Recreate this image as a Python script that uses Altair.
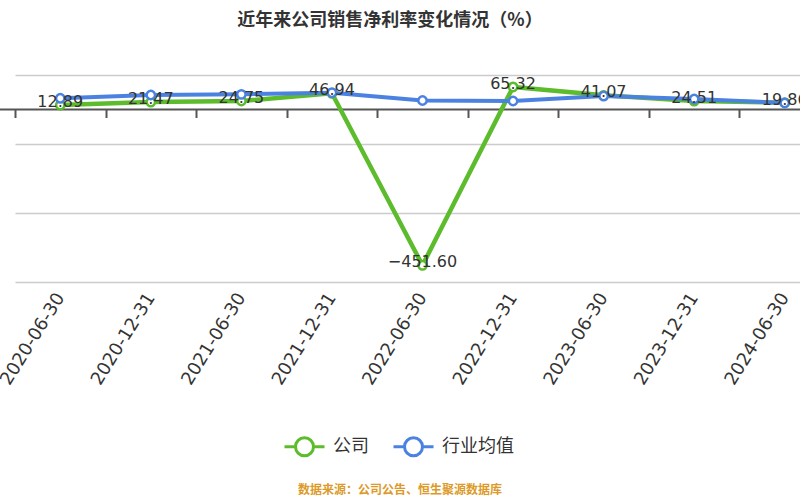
import altair as alt
import pandas as pd

# Reporting periods and margin values (%)
dates = ["2020-06-30", "2020-12-31", "2021-06-30", "2021-12-31", "2022-06-30",
         "2022-12-31", "2023-06-30", "2023-12-31", "2024-06-30"]
company = [12.89, 21.47, 24.75, 46.94, -451.60, 65.32, 41.07, 24.51, 19.86]
industry = [32.50, 42.00, 44.00, 48.70, 26.00, 24.60, 39.00, 30.40, 18.80]
series_names = ["公司", "行业均值"]
series_colors = ["#5cbc2c", "#4b82e1"]
y_ticks = [100, 0, -100, -200, -300, -400, -500]
title_text = "近年来公司销售净利率变化情况（%）"
source_note = ["数据来源：公司公告、恒生聚源数据库"]

CJK = "Noto Sans CJK SC"
TXT = "#333333"

df = pd.DataFrame({
    "date": dates * 2,
    "series": [series_names[0]] * len(dates) + [series_names[1]] * len(dates),
    "value": company + industry,
})

# legend symbol: short line through a hollow circle
legend_path = ("M-1,0L-0.45,0M0.45,0L1,0"
               "M-0.45,0A0.45,0.45,0,1,1,0.45,0A0.45,0.45,0,1,1,-0.45,0Z")

x_enc = alt.X(
    "date:N", sort=dates,
    scale=alt.Scale(type="band", range=[15, 830], paddingInner=0, paddingOuter=0),
    axis=alt.Axis(title=None, domain=False, ticks=True, tickBand="extent",
                  tickSize=8, tickWidth=2, tickColor="#555555", offset=-172.5,
                  labelAngle=-58, labelPadding=177, labelFontSize=18,
                  labelColor=TXT, labelFont="DejaVu Sans", grid=False),
)
y_enc = alt.Y(
    "value:Q",
    scale=alt.Scale(domain=[-500, 100], nice=False, zero=False),
    axis=alt.Axis(title=None, domain=False, ticks=False, labels=False,
                  grid=True, values=y_ticks, gridColor="#cccccc", gridWidth=1.5),
)
color_enc = alt.Color(
    "series:N",
    scale=alt.Scale(domain=series_names, range=series_colors),
    legend=alt.Legend(title=None, orient="none", direction="horizontal",
                      legendX=283, legendY=350, symbolType=legend_path,
                      symbolSize=1600, symbolStrokeWidth=3,
                      symbolFillColor="white", labelFontSize=18,
                      labelFont=CJK, labelColor=TXT, labelOffset=7,
                      columnPadding=18),
)

base = alt.Chart(df)

zero_line = alt.Chart(pd.DataFrame({"v": [0]})).mark_rule(
    color="#555555", strokeWidth=2).encode(y=alt.Y("v:Q"))

green = base.transform_filter(alt.datum.series == series_names[0])
blue = base.transform_filter(alt.datum.series == series_names[1])

green_line = green.mark_line(strokeWidth=4.5).encode(x=x_enc, y=y_enc, color=color_enc)
blue_line = blue.mark_line(strokeWidth=4).encode(x=x_enc, y=y_enc, color=color_enc)
green_pts = green.mark_point(filled=False, fill="white", opacity=1, size=70,
                             strokeWidth=2.5).encode(x=x_enc, y=y_enc, color=color_enc)
blue_pts = blue.mark_point(filled=False, fill="white", opacity=1, size=70,
                           strokeWidth=2.5).encode(x=x_enc, y=y_enc, color=color_enc)
labels = green.mark_text(fontSize=16, color=TXT, dy=-3, font="DejaVu Sans",
                         baseline="middle").encode(
    x=x_enc, y=y_enc, text=alt.Text("value:Q", format=".2f"))

note = alt.Chart(pd.DataFrame({"t": source_note})).mark_text(
    fontSize=12, fontWeight="bold", color="#dc9a28", font=CJK).encode(
    text="t:N", x=alt.value(400), y=alt.value(415))

chart = alt.layer(
    zero_line, green_line, blue_line, green_pts, blue_pts, labels, note
).properties(
    width=800, height=207,
    title=alt.Title(title_text, fontSize=18, font=CJK, fontWeight="bold",
                    color=TXT, anchor="middle", offset=45, dx=-10),
    autosize=alt.AutoSizeParams(type="none"),
    padding={"left": 0, "top": 75, "right": 0, "bottom": 218},
    background="white",
).configure_view(stroke=None)

chart.save("out.html", embed_options={"renderer": "svg", "actions": False})
